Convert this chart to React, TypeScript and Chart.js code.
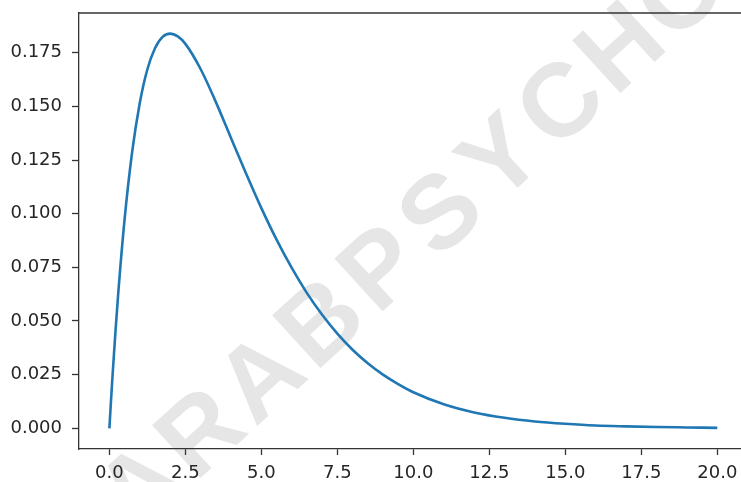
import React, { useEffect, useRef } from "react";
import { Chart, registerables } from "chart.js";

Chart.register(...registerables);

// x positions and density values
const xValues = [
  0, 0.05, 0.1, 0.2, 0.3, 0.5, 0.75, 1, 1.25, 1.5, 1.75, 2, 2.25, 2.5, 3, 3.5, 4,
  4.5, 5, 5.5, 6, 6.5, 7, 7.5, 8, 8.5, 9, 9.5, 10, 11, 12, 13, 14, 15, 16, 17, 18,
  19, 20,
];
const yValues = [
  0, 0.0122, 0.0238, 0.0452, 0.0646, 0.0974, 0.1289, 0.1516, 0.1673, 0.1771,
  0.1824, 0.1839, 0.1826, 0.1791, 0.1674, 0.1521, 0.1353, 0.1186, 0.1026, 0.0879,
  0.0747, 0.063, 0.0529, 0.0441, 0.0366, 0.0303, 0.025, 0.0206, 0.0168, 0.0112,
  0.0074, 0.0049, 0.0032, 0.0021, 0.0013, 0.0009, 0.0006, 0.0004, 0.0002,
];
const xTicks = [0, 2.5, 5, 7.5, 10, 12.5, 15, 17.5, 20];
const yTicks = [0, 0.025, 0.05, 0.075, 0.1, 0.125, 0.15, 0.175];
const watermark = "ARABPSYCHOLOGY";

const AXIS = "#333333";
const TEXT = "#262626";

const watermarkPlugin = {
  id: "watermark",
  beforeDraw(chart: any) {
    const ctx = chart.ctx;
    ctx.save();
    ctx.fillStyle = "#e6e6e6";
    const size = 104;
    ctx.font = `bold ${size}px 'Liberation Sans', Arial, sans-serif`;
    ctx.textAlign = "center";
    ctx.textBaseline = "alphabetic";
    const ang = (-42.4 * Math.PI) / 180;
    const cap = size * 0.716;
    for (let i = 0; i < watermark.length; i++) {
      const cx = 138 + i * 60;
      const cy = 485 - i * 55;
      ctx.save();
      ctx.translate(cx, cy);
      ctx.rotate(ang);
      ctx.fillText(watermark[i], 0, cap / 2);
      ctx.restore();
    }
    ctx.restore();
  },
};

const frameTopPlugin = {
  id: "frameTop",
  afterDraw(chart: any) {
    const { ctx, chartArea } = chart;
    ctx.save();
    ctx.strokeStyle = AXIS;
    ctx.lineWidth = 1.3;
    ctx.beginPath();
    ctx.moveTo(chartArea.left, chartArea.top);
    ctx.lineTo(chartArea.right, chartArea.top);
    ctx.stroke();
    ctx.restore();
  },
};

export default function App() {
  const ref = useRef<HTMLCanvasElement | null>(null);

  useEffect(() => {
    if (!ref.current) return;
    const points = xValues.map((x, i) => ({ x, y: yValues[i] }));
    const font = { family: "'DejaVu Sans', sans-serif", size: 18 };
    const chart = new Chart(ref.current, {
      type: "line",
      data: {
        datasets: [
          {
            data: points,
            borderColor: "#1f77b4",
            borderWidth: 2.6,
            pointRadius: 0,
            fill: false,
            cubicInterpolationMode: "monotone",
          },
        ],
      },
      options: {
        responsive: false,
        animation: false,
        events: [],
        layout: { padding: { top: 13, right: 0, left: 0, bottom: 0 } },
        plugins: { legend: { display: false }, tooltip: { enabled: false } },
        scales: {
          x: {
            type: "linear",
            min: -1.0,
            max: 20.78,
            afterBuildTicks: (s: any) => {
              s.ticks = xTicks.map((v) => ({ value: v }));
            },
            afterFit: (s: any) => {
              s.height = 33;
              s.paddingLeft = 0;
              s.paddingRight = 0;
            },
            ticks: {
              color: TEXT,
              font,
              padding: 8,
              maxRotation: 0,
              autoSkip: false,
              callback: (v: any) => Number(v).toFixed(1),
            },
            grid: {
              display: true,
              drawOnChartArea: false,
              drawTicks: true,
              tickLength: 6,
              tickColor: AXIS,
              tickWidth: 1.3,
            },
            border: { display: true, color: AXIS, width: 1.3 },
          },
          y: {
            type: "linear",
            min: -0.00964,
            max: 0.1935,
            afterBuildTicks: (s: any) => {
              s.ticks = yTicks.map((v) => ({ value: v }));
            },
            afterFit: (s: any) => {
              s.width = 79;
              s.paddingTop = 0;
              s.paddingBottom = 0;
            },
            ticks: {
              color: TEXT,
              font,
              padding: 10,
              autoSkip: false,
              callback: (v: any) => Number(v).toFixed(3),
            },
            grid: {
              display: true,
              drawOnChartArea: false,
              drawTicks: true,
              tickLength: 7,
              tickColor: AXIS,
              tickWidth: 1.3,
            },
            border: { display: true, color: AXIS, width: 1.3 },
          },
        },
      },
      plugins: [watermarkPlugin, frameTopPlugin],
    } as any);
    return () => chart.destroy();
  }, []);

  return (
    <div
      style={{
        position: "fixed",
        left: 0,
        top: 0,
        width: 741,
        height: 482,
        background: "#ffffff",
      }}
    >
      <canvas ref={ref} width={741} height={482} style={{ display: "block" }} />
    </div>
  );
}
